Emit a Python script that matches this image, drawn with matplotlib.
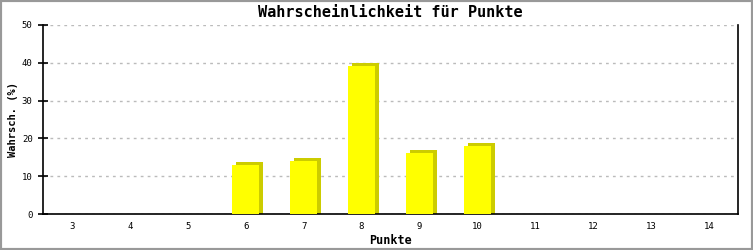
#!/usr/bin/env python3

# Probability bar chart with a simple 3D shadow
import matplotlib
matplotlib.use('Agg')
import matplotlib.pyplot as plt
from matplotlib.patches import Rectangle

IMAGEFILE = 'out.png'

# Data
points = [3, 4, 5, 6, 7, 8, 9, 10, 11, 12, 13, 14]
probability = [0, 0, 0, 13.0, 13.9, 39.1, 16.1, 18.0, 0, 0, 0, 0]
y_ticks = [0, 10, 20, 30, 40, 50]

FRONT = '#ffff00'
SHADOW = '#cccc00'
FONT = 'DejaVu Sans Mono'

fig = plt.figure(figsize=(7.53, 2.5), dpi=100)
ax = fig.add_axes([43 / 753, 36 / 250, 695 / 753, 189 / 250])

x = list(range(len(points)))
width = 0.47
# shadow first, shifted a bit right and up
shadow_h = [v + 0.8 if v > 0 else 0 for v in probability]
ax.bar([i + 0.07 for i in x], shadow_h, width=width, color=SHADOW, zorder=2)
ax.bar(x, probability, width=width, color=FRONT, zorder=3)

ax.set_xlim(-0.5, len(points) - 0.5)
ax.set_ylim(0, 50)
ax.set_xticks(x)
ax.set_xticklabels(points, fontsize=6.5, family=FONT)
ax.set_yticks(y_ticks)
ax.set_yticklabels(y_ticks, fontsize=6.5, family=FONT)
ax.tick_params(axis='x', length=0, pad=6)
ax.tick_params(axis='y', direction='inout', length=7, width=1.2, pad=4)

ax.yaxis.grid(True, linestyle=(0, (2, 3)), color='#bbbbbb', linewidth=1, zorder=0)
ax.set_axisbelow(True)

ax.spines['top'].set_visible(False)
for s in ['left', 'right', 'bottom']:
    ax.spines[s].set_linewidth(1.2)

ax.set_title('Wahrscheinlichkeit für Punkte', family=FONT, fontsize=11,
             fontweight='bold', pad=6)
ax.set_xlabel('Punkte', family=FONT, fontsize=8.5, fontweight='bold')
ax.xaxis.set_label_coords(0.5, -0.105)
ax.set_ylabel('Wahrsch. (%)', family=FONT, fontsize=7.5, fontweight='bold')
ax.yaxis.set_label_coords(-0.036, 0.5)

# gray frame around the whole image
fig.patches.append(Rectangle((0, 0), 1, 1, transform=fig.transFigure,
                             fill=False, edgecolor='#999999', linewidth=3))

fig.savefig(IMAGEFILE, dpi=100)
